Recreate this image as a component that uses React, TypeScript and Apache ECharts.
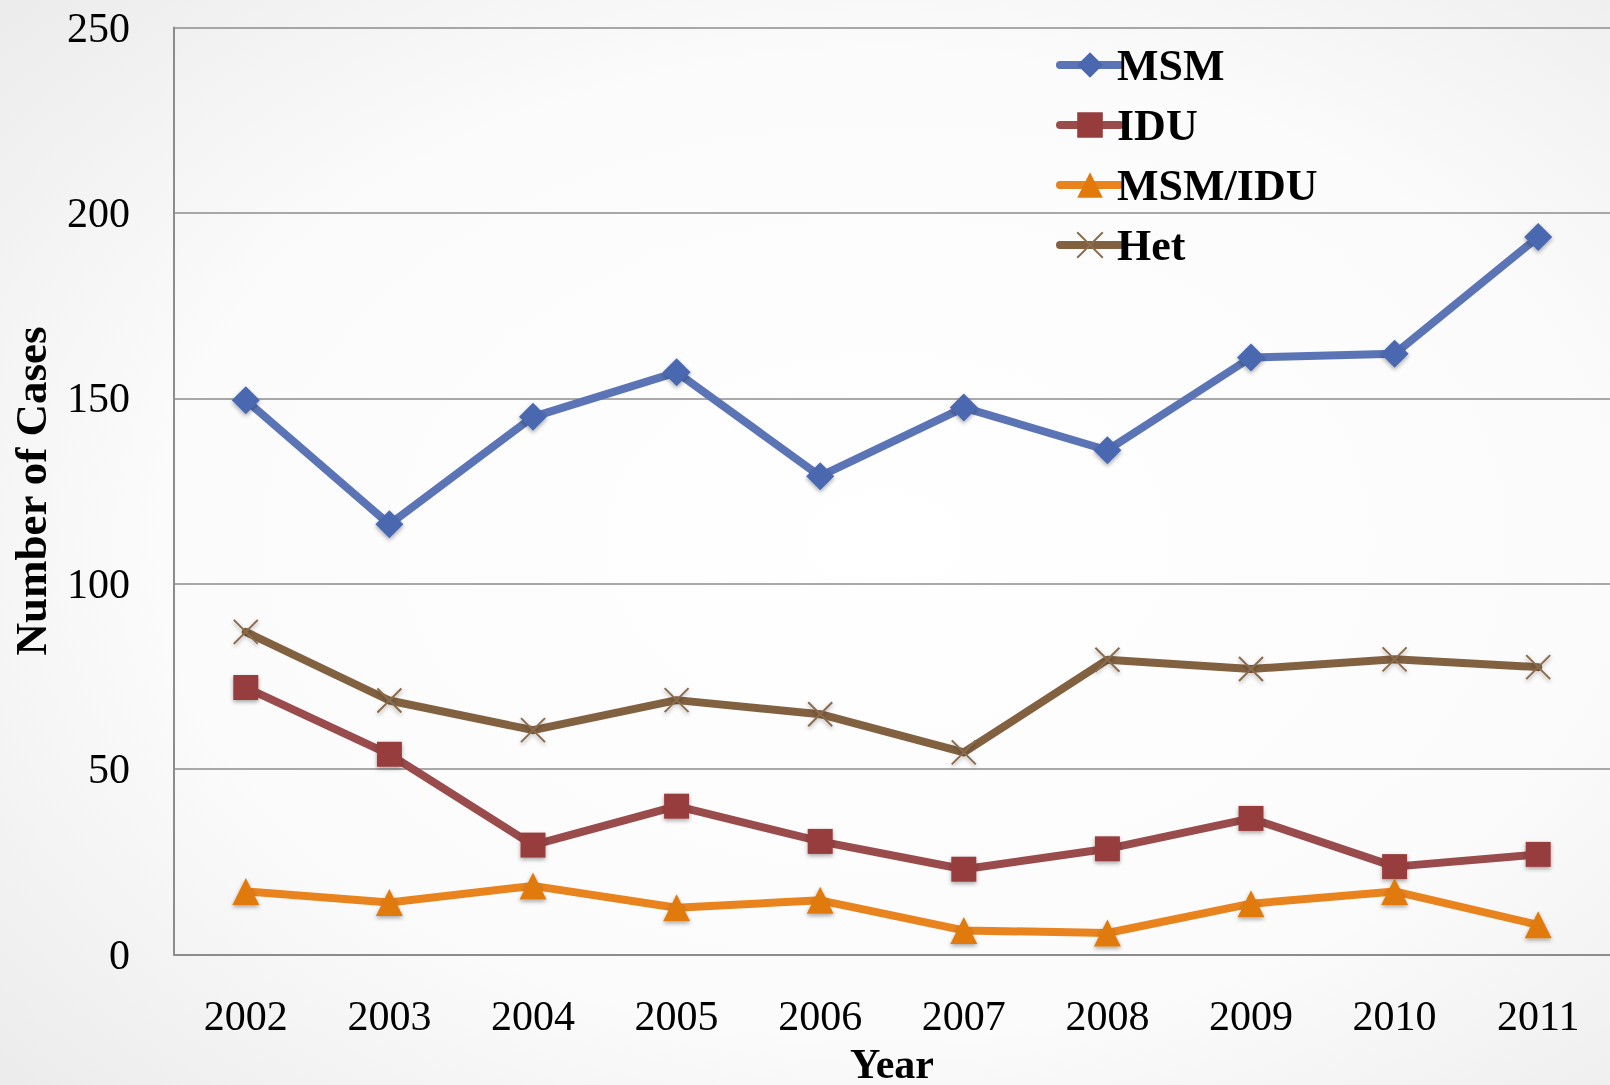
import React, { useEffect, useRef } from "react";
import * as echarts from "echarts";

const years = ["2002", "2003", "2004", "2005", "2006", "2007", "2008", "2009", "2010", "2011"];
const msm = [149.5, 116, 145, 157, 129, 147.5, 136, 161, 162, 193.5];
const idu = [72, 54, 29.5, 40, 30.5, 23, 28.5, 36.7, 23.7, 27];
const msmIdu = [17, 14, 18.5, 12.6, 14.6, 6.5, 5.8, 13.7, 17, 8];
const het = [87, 68.5, 60.5, 68.6, 64.8, 54.5, 79.5, 77, 79.6, 77.5];
const yTicks = { min: 0, max: 250, interval: 50 };

const SERIF = "'Liberation Serif', 'Times New Roman', serif";
const CROSS = "path://M0,0L10,10M10,0L0,10";

export default function App() {
  const ref = useRef<HTMLDivElement>(null);
  useEffect(() => {
    document.body.style.margin = "0";
    const chart = echarts.init(ref.current!, null, { renderer: "svg", width: 1610, height: 1085 });
    const shadow = { shadowColor: "rgba(0,0,0,0.35)", shadowBlur: 4, shadowOffsetY: 2 };
    const mk = (name: string, data: number[], lineColor: string, markColor: string, symbol: string, size: number) => ({
      name,
      type: "line",
      data,
      symbol,
      symbolSize: size,
      showSymbol: true,
      lineStyle: { color: lineColor, width: 8, cap: "round", join: "round" },
      itemStyle: { color: markColor, ...shadow },
      emphasis: { disabled: true },
      z: 2,
    });
    chart.setOption({
      animation: false,
      backgroundColor: {
        type: "radial",
        x: 0.55,
        y: 0.5,
        r: 0.75,
        colorStops: [
          { offset: 0, color: "#ffffff" },
          { offset: 0.6, color: "#fbfbfb" },
          { offset: 1, color: "#ebebeb" },
        ],
      },
      grid: { left: 174, width: 1436, top: 27.5, height: 927, containLabel: false, outerBoundsMode: "none" },
      legend: {
        orient: "vertical",
        left: 1051,
        top: 38,
        itemWidth: 60,
        itemHeight: 32,
        itemGap: 16,
        selectedMode: false,
        lineStyle: { width: 8, cap: "round" },
        textStyle: { fontFamily: SERIF, fontWeight: "bold", fontSize: 44, color: "#000", lineHeight: 44, padding: [0, 0, 0, -8] },
        data: ["MSM", "IDU", "MSM/IDU", "Het"],
      },
      xAxis: {
        type: "category",
        data: years,
        boundaryGap: true,
        axisLine: { show: true, lineStyle: { color: "#8c8c8c", width: 2 } },
        axisTick: { show: false },
        axisLabel: { fontFamily: SERIF, fontSize: 42, color: "#000", margin: 40 },
        name: "Year",
        nameLocation: "middle",
        nameGap: 88,
        nameTextStyle: { fontFamily: SERIF, fontWeight: "bold", fontSize: 42, lineHeight: 42, color: "#000" },
      },
      yAxis: {
        type: "value",
        min: yTicks.min,
        max: yTicks.max,
        interval: yTicks.interval,
        axisLine: { show: true, lineStyle: { color: "#8c8c8c", width: 2 } },
        axisTick: { show: false },
        splitLine: { show: true, lineStyle: { color: "#8c8c8c", width: 1.5 } },
        axisLabel: { fontFamily: SERIF, fontSize: 42, color: "#000", margin: 44 },
        name: "Number of Cases",
        nameLocation: "middle",
        nameGap: 121,
        nameTextStyle: { fontFamily: SERIF, fontWeight: "bold", fontSize: 45, color: "#000" },
      },
      series: [
        mk("MSM", msm, "#5a74b5", "#4a67b0", "diamond", 28),
        mk("IDU", idu, "#9a4b4c", "#973c3c", "rect", 25),
        mk("MSM/IDU", msmIdu, "#e8831e", "#e17a0b", "triangle", 27),
        {
          ...mk("Het", het, "#826141", "transparent", CROSS, 24),
          itemStyle: { color: "transparent", borderColor: "#8a6c4e", borderWidth: 2, ...shadow },
        },
      ],
    });
    return () => chart.dispose();
  }, []);
  return <div ref={ref} style={{ position: "fixed", left: 0, top: 0, width: 1610, height: 1085 }} />;
}
